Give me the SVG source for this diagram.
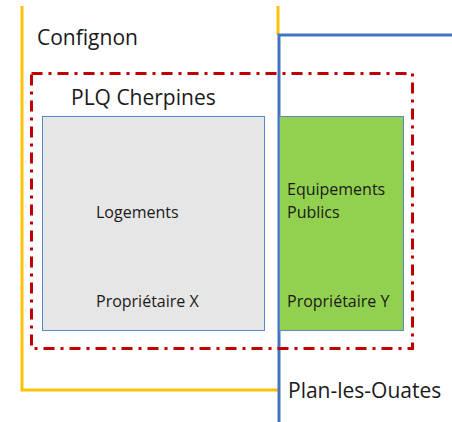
<svg xmlns="http://www.w3.org/2000/svg" width="452" height="422" viewBox="0 0 452 422">
  <style>
    .lbl { font-family: "Open Sans", "Liberation Sans", sans-serif; fill: #1a1a1a; }
    .big { font-size: 21px; }
    .small { font-size: 16px; }
    .commune { fill: none; stroke-width: 3; }
  </style>
  <rect width="452" height="422" fill="#ffffff"/>
  <g id="connectors">
    <!-- Confignon boundary -->
    <path class="commune" d="M22,6 V390 H278" stroke="#ffc000"/>
    <path class="commune" d="M278,6 V35" stroke="#ffc000"/>
    <!-- Plan-les-Ouates boundary -->
    <path class="commune" d="M452,35 H279 V422" stroke="#4472c4"/>
  </g>
  <g id="plq">
    <rect x="31.5" y="73.5" width="381" height="275" fill="none" stroke="#c00000" stroke-width="3" stroke-dasharray="11 6 3 6"/>
    <text class="lbl big" x="71" y="105">PLQ Cherpines</text>
  </g>
  <g id="logements">
    <rect x="42.5" y="116.5" width="222" height="214" fill="#e6e6e6" stroke="#5b8bc7" stroke-width="1"/>
    <text class="lbl small" x="96" y="218">Logements</text>
    <text class="lbl small" x="96" y="307">Propriétaire X</text>
  </g>
  <g id="equipements">
    <rect x="279.5" y="116.5" width="124" height="214" fill="#92d050" stroke="#5b8bc7" stroke-width="1"/>
    <text class="lbl small" x="287" y="195">Equipements</text>
    <text class="lbl small" x="287" y="218">Publics</text>
    <text class="lbl small" x="287" y="307">Propriétaire Y</text>
  </g>
  <g id="communes">
    <text class="lbl big" x="37" y="45">Confignon</text>
    <text class="lbl big" x="288" y="398">Plan-les-Ouates</text>
  </g>
</svg>
